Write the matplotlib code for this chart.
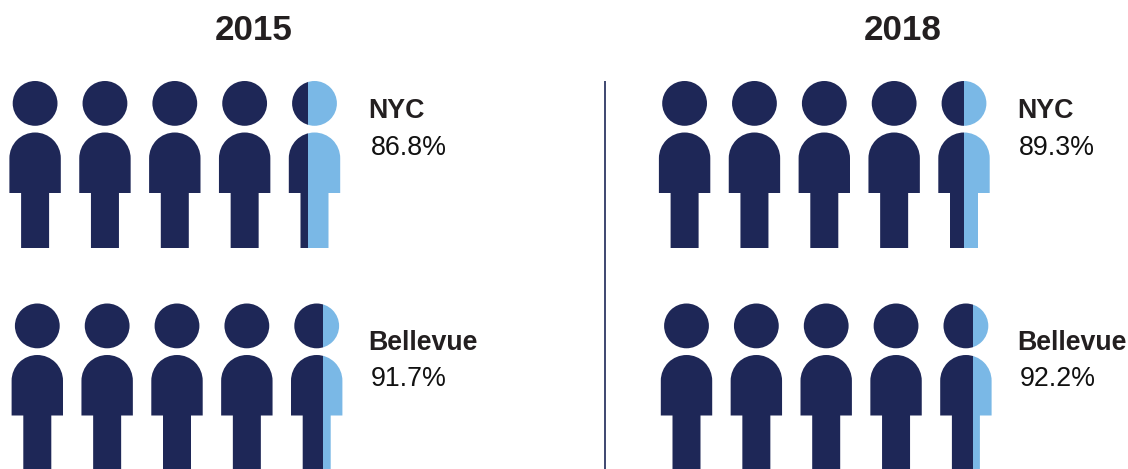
import matplotlib
matplotlib.use("Agg")
import matplotlib.pyplot as plt
from matplotlib.path import Path
from matplotlib.patches import PathPatch, Rectangle

plt.rcParams['font.family'] = ['Liberation Sans', 'DejaVu Sans']

years = ["2015", "2018"]
cities = ["NYC", "Bellevue"]
nyc_share = [86.8, 89.3]
bellevue_share = [91.7, 92.2]
shares = {"NYC": nyc_share, "Bellevue": bellevue_share}

NAVY = "#1E2757"
LIGHT = "#7AB8E6"
PEOPLE = 5
SPACING = 69.85
W = 51.4       # body width
HEAD_R = 22.4
SPLIT_NUDGE = 0.032

# panel layout (pixels)
panel_left = {"2015": {"NYC": 9.4, "Bellevue": 11.6}, "2018": {"NYC": 658.9, "Bellevue": 660.8}}
row_top = {"NYC": 81.0, "Bellevue": 303.5}
label_x = {"2015": 368.6, "2018": 1017.3}
label_base = {"NYC": 118.5, "Bellevue": 349.5}
value_base = {"NYC": 155.0, "Bellevue": 386.0}
title_x = {"2015": 253.5, "2018": 902.5}


def person(x, top):
    """Pictogram outline: head circle + rounded torso + leg block."""
    cx = x + W / 2
    head = Path.circle((cx, top + HEAD_R), HEAD_R)
    r = W / 2
    bt = top + 51.5
    arc = Path.arc(180, 360)          # in y-up unit circle; y is flipped below
    av = [(cx + r * vx, bt + r - r * abs(vy)) for vx, vy in arc.vertices]
    sh = top + 112
    bot = top + 167
    leg = 14.0
    verts = [(x, sh)] + [(x, bt + r)] + av[0:] + [(x + W, sh), (cx + leg, sh), (cx + leg, bot),
             (cx - leg, bot), (cx - leg, sh), (x, sh)]
    codes = [Path.MOVETO, Path.LINETO] + [Path.LINETO] + list(arc.codes[1:]) + \
            [Path.LINETO] * 5 + [Path.CLOSEPOLY]
    body = Path(verts, codes)
    return Path.make_compound_path(head, body)


fig = plt.figure(figsize=(11.28, 4.69), dpi=100, facecolor="white")
ax = fig.add_axes([0, 0, 1, 1])
ax.set_xlim(0, 1128)
ax.set_ylim(469, 0)
ax.axis("off")

for yi, year in enumerate(years):
    ax.text(title_x[year], 30.5, year, ha="center", va="center", fontsize=25.2,
            fontweight="bold", color="#231F20")
    for city in cities:
        v = shares[city][yi]
        x0 = panel_left[year][city]
        top = row_top[city]
        for i in range(PEOPLE):
            x = x0 + i * SPACING
            path = person(x, top)
            filled = v / 100 * PEOPLE - i
            dark = PathPatch(path, facecolor=NAVY, edgecolor="none", lw=0)
            ax.add_patch(dark)
            if filled < 1:
                split = x + W * (filled + SPLIT_NUDGE)
                lp = PathPatch(path, facecolor=LIGHT, edgecolor="none", lw=0)
                ax.add_patch(lp)
                lp.set_clip_path(Rectangle((split, top - 2), x + W + 2 - split, 175,
                                           transform=ax.transData))
                dark.set_clip_path(Rectangle((x - 2, top - 2), split - x + 2, 175,
                                             transform=ax.transData))
        ax.text(label_x[year], label_base[city], city, ha="left", va="baseline",
                fontsize=19.3, fontweight="bold", color="#231F20")
        ax.text(label_x[year] + 2, value_base[city], f"{v:.1f}%", ha="left", va="baseline",
                fontsize=19.3, color="#111111")

ax.plot([605, 605], [81, 469], color=NAVY, lw=1.2, solid_capstyle="butt")

fig.savefig("out.png", dpi=100, facecolor="white")
